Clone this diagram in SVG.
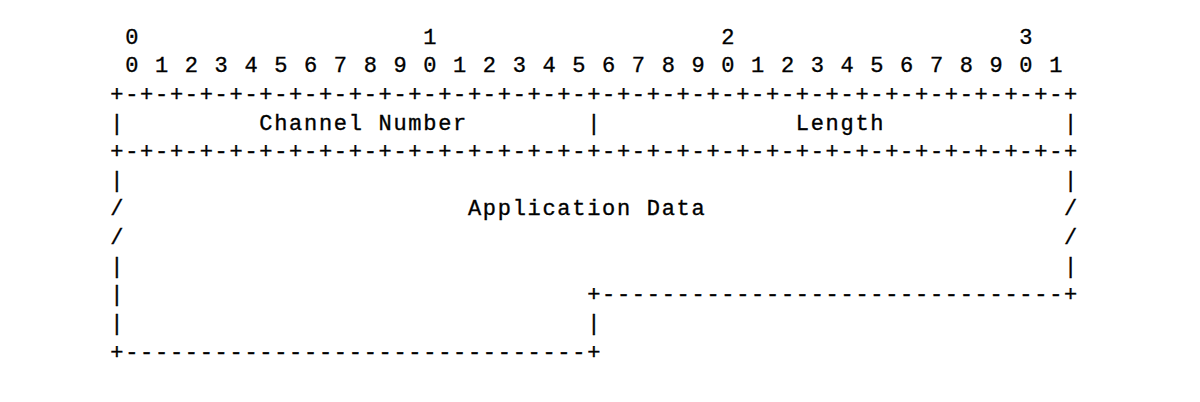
<svg xmlns="http://www.w3.org/2000/svg" width="1200" height="402" viewBox="0 0 1200 402">
<style>
.t{font-family:"Liberation Mono","Courier New",monospace;font-size:22px;letter-spacing:1.7px;fill:#000;stroke:#000;stroke-width:0.35px;white-space:pre}
</style>
<rect width="1200" height="402" fill="#fff"/>
<g id="ruler">
<text class="t" x="110.3" y="43.5" xml:space="preserve"> 0                   1                   2                   3</text>
<text class="t" x="110.3" y="72.2" xml:space="preserve"> 0 1 2 3 4 5 6 7 8 9 0 1 2 3 4 5 6 7 8 9 0 1 2 3 4 5 6 7 8 9 0 1</text>
</g>
<g id="header">
<text class="t" x="110.3" y="100.8" xml:space="preserve">+-+-+-+-+-+-+-+-+-+-+-+-+-+-+-+-+-+-+-+-+-+-+-+-+-+-+-+-+-+-+-+-+</text>
<text class="t" x="110.3" y="129.5" xml:space="preserve">|         Channel Number        |             Length            |</text>
<text class="t" x="110.3" y="158.1" xml:space="preserve">+-+-+-+-+-+-+-+-+-+-+-+-+-+-+-+-+-+-+-+-+-+-+-+-+-+-+-+-+-+-+-+-+</text>
</g>
<g id="application-data">
<text class="t" x="110.3" y="186.8" xml:space="preserve">|                                                               |</text>
<text class="t" x="110.3" y="215.4" xml:space="preserve">/                       Application Data                        /</text>
<text class="t" x="110.3" y="244.1" xml:space="preserve">/                                                               /</text>
<text class="t" x="110.3" y="272.7" xml:space="preserve">|                                                               |</text>
<text class="t" x="110.3" y="301.4" xml:space="preserve">|                               +-------------------------------+</text>
<text class="t" x="110.3" y="330.0" xml:space="preserve">|                               |</text>
<text class="t" x="110.3" y="358.7" xml:space="preserve">+-------------------------------+</text>
</g>
</svg>
